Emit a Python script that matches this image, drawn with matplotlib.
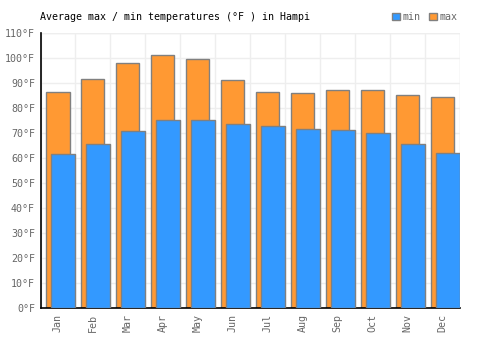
import numpy as np
import matplotlib.pyplot as plt
from matplotlib.patches import Patch

months = ['Jan', 'Feb', 'Mar', 'Apr', 'May', 'Jun', 'Jul', 'Aug', 'Sep', 'Oct', 'Nov', 'Dec']
temp_max = [86.7, 91.9, 98.3, 101.5, 99.9, 91.5, 86.7, 86.3, 87.5, 87.5, 85.5, 84.7]
temp_min = [61.9, 65.9, 71.1, 75.5, 75.5, 73.9, 73.1, 71.9, 71.5, 70.3, 65.9, 62.3]
y_ticks = list(range(0, 111, 10))

orange = '#ff9933'
blue = '#3399ff'
edge = '#808080'
grid_color = '#eeeeee'
text_gray = '#666666'

plt.rcParams['font.family'] = 'DejaVu Sans Mono'

fig = plt.figure(figsize=(5, 3.5), dpi=100)
ax = fig.add_axes([0.081, 0.119, 0.839, 0.786])

x = np.arange(len(months))
ax.bar(x - 0.005, temp_max, width=0.67, color=orange, edgecolor=edge, linewidth=1, zorder=2)
ax.bar(x + 0.15, temp_min, width=0.70, color=blue, edgecolor=edge, linewidth=1, zorder=3)

ax.set_xlim(-0.5, len(months) - 0.5)
ax.set_ylim(0, 110)
ax.set_yticks(y_ticks)
ax.set_yticklabels([f'{v}°F' for v in y_ticks], color=text_gray, fontsize=7.2)
ax.set_xticks(x)
ax.set_xticklabels(months, rotation=90, color=text_gray, fontsize=7.2)
ax.set_xticks(np.arange(len(months) + 1) - 0.5, minor=True)
ax.tick_params(axis='both', which='both', length=0, pad=4)

ax.grid(False)
ax.yaxis.grid(True, color=grid_color, linewidth=1, zorder=0)
ax.xaxis.grid(True, which='minor', color=grid_color, linewidth=1, zorder=0)
ax.set_axisbelow(True)

for side in ['top', 'right']:
    ax.spines[side].set_visible(False)
for side in ['left', 'bottom']:
    ax.spines[side].set_color('black')
    ax.spines[side].set_linewidth(1.2)
# top border line / right grid line
ax.axhline(110, color=grid_color, linewidth=1, zorder=0)
ax.axvline(len(months) - 0.5, color=grid_color, linewidth=1, zorder=0)

fig.text(0.079, 0.952, 'Average max / min temperatures (°F ) in Hampi', fontsize=7.2,
         color='black', va='center', ha='left')

handles = [Patch(facecolor=blue, edgecolor=edge, label='min'),
           Patch(facecolor=orange, edgecolor=edge, label='max')]
fig.legend(handles=handles, ncol=2, frameon=False, loc='center right',
           bbox_to_anchor=(0.915, 0.952), fontsize=7.2, labelcolor=text_gray,
           handlelength=0.8, handleheight=0.8, handletextpad=0.3,
           columnspacing=0.8, borderaxespad=0, borderpad=0)

fig.savefig('out.png', dpi=100)
